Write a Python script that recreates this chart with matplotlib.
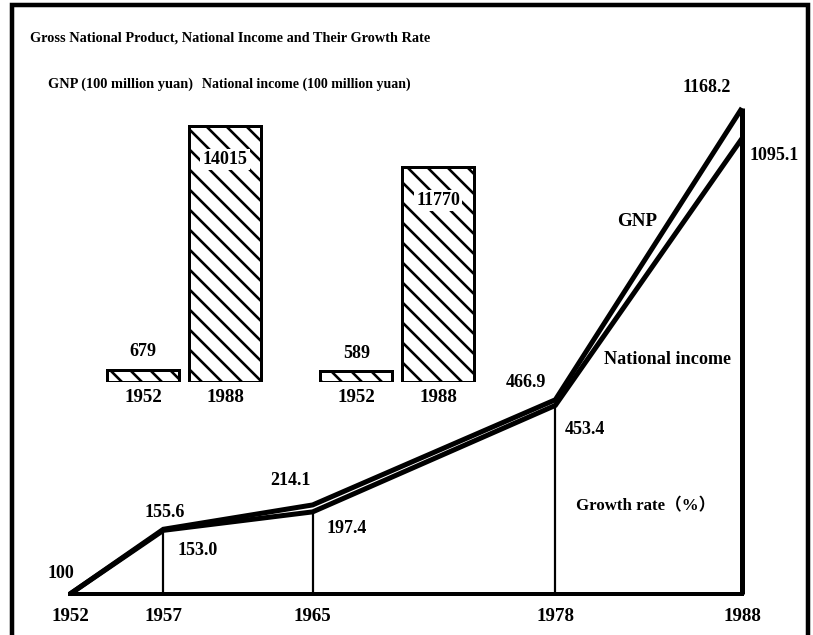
import numpy as np
import matplotlib
matplotlib.use('Agg')
import matplotlib.pyplot as plt
from matplotlib.patches import Rectangle

# ---------------- data ----------------
years = [1952, 1957, 1965, 1978, 1988]
gnp_rate = [100, 155.6, 214.1, 466.9, 1168.2]
ni_rate = [100, 153.0, 197.4, 453.4, 1095.1]
year_labels = ['1952', '1957', '1965', '1978', '1988']

bar_years = ['1952', '1988']
gnp_values = [679, 14015]
ni_values = [589, 11770]

title = 'Gross National Product, National Income and Their Growth Rate'
gnp_bar_title = 'GNP (100 million yuan)'
ni_bar_title = 'National income (100 million yuan)'
gnp_line_label = 'GNP'
ni_line_label = 'National income'
rate_label = 'Growth rate\uff08%\uff09'

# ---------------- layout helpers ----------------
W, H, DPI = 813, 635, 120
PT = 72.0 / DPI


def px(v):
    return v * PT


plt.rcParams['font.family'] = ['Liberation Serif', 'Noto Sans CJK SC', 'DejaVu Sans']
plt.rcParams['font.weight'] = 'bold'
plt.rcParams['hatch.linewidth'] = px(2.6)

fig = plt.figure(figsize=(W / DPI, H / DPI), dpi=DPI)
fig.patch.set_facecolor('white')


def fax(l, t, r, b):
    return fig.add_axes([l / W, 1 - b / H, (r - l) / W, (b - t) / H])


def ftext(x, y, s, size_px, ha='center', **kw):
    return fig.text(x / W, 1 - y / H, s, ha=ha, va='center',
                    fontsize=px(size_px), fontweight='bold', **kw)


def fit(t, width_px):
    r = fig.canvas.get_renderer()
    for _ in range(2):
        bb = t.get_window_extent(r)
        t.set_fontsize(t.get_fontsize() * width_px / bb.width)


# outer frame
fig.add_artist(Rectangle((12 / W, -0.05), (808 - 12) / W, 1.05 - 5 / H,
                         transform=fig.transFigure, fill=False,
                         edgecolor='black', linewidth=px(4.5)))

# titles (reference face is condensed; widen slightly to keep legible height)
t = ftext(30, 38, title, 18, ha='left')
fit(t, 400)
t = ftext(48, 84, gnp_bar_title, 18, ha='left')
fit(t, 145)
t = ftext(202, 84, ni_bar_title, 18, ha='left')
fit(t, 208)

# ---------------- growth-rate line chart ----------------
ax = fax(70, 80, 742, 594)


def fwd(v):
    v = np.asarray(v, dtype=float)
    return np.where(v < 150, (v - 100) * 3.0, v)


def inv(u):
    u = np.asarray(u, dtype=float)
    return np.where(u < 150, u / 3.0 + 100, u)


ax.set_yscale('function', functions=(fwd, inv))
ax.set_xlim(1952, 1988)
ax.set_ylim(100, 514 / 0.416)
ax.set_facecolor('none')
for s in ['top', 'left', 'right']:
    ax.spines[s].set_visible(False)
ax.spines['bottom'].set_linewidth(px(4))
ax.set_yticks([])
ax.minorticks_off()
ax.set_xticks(years)
ax.set_xticklabels(year_labels, fontsize=px(19), fontweight='bold')
ax.tick_params(axis='x', length=0, pad=px(14))

ax.vlines(years[1:-1], 100, ni_rate[1:-1], color='black', lw=px(2.2),
          clip_on=False)
ax.vlines(years[-1], 100, gnp_rate[-1], color='black', lw=px(5),
          clip_on=False)
ax.plot(years, gnp_rate, color='black', lw=px(5), solid_joinstyle='miter',
        solid_capstyle='butt', clip_on=False)
ax.plot(years, ni_rate, color='black', lw=px(5), solid_joinstyle='miter',
        solid_capstyle='butt', clip_on=False)

gnp_off = [(-9, 21), (1, 17), (-22, 24), (-29, 17), (-35, 21)]
ni_off = [None, (34, -20), (34, -17), (30, -24), (32, -17)]
for yr, v, o in zip(years, gnp_rate, gnp_off):
    s = '100' if v == 100 else f'{v:.1f}'
    ax.annotate(s, (yr, v), xytext=o, textcoords='offset pixels',
                ha='center', va='center', fontsize=px(18), fontweight='bold',
                annotation_clip=False)
for yr, v, o in zip(years, ni_rate, ni_off):
    if o is None:
        continue
    ax.annotate(f'{v:.1f}', (yr, v), xytext=o, textcoords='offset pixels',
                ha='center', va='center', fontsize=px(18), fontweight='bold',
                annotation_clip=False)

t = ftext(637, 222, gnp_line_label, 18)
fit(t, 40)
t = ftext(668, 360, ni_line_label, 18)
fit(t, 127)
t = ftext(646, 506, rate_label, 18)
fit(t, 138)

# ---------------- bar insets ----------------
bx = fax(100, 100, 485, 382)
bx.set_xlim((100 - 143) / 82, (485 - 143) / 82)
bx.set_ylim(0, 282 / 0.0183)
bx.axis('off')
bx.set_facecolor('none')

gnp_x = np.arange(len(gnp_values))
ni_x = np.arange(len(ni_values)) + 2.6
for xs, vals in [(gnp_x, gnp_values), (ni_x, ni_values)]:
    bx.bar(xs, vals, width=0.88, color='white', edgecolor='black',
           hatch='\\\\', linewidth=px(3))
    for x, v, lab in zip(xs, vals, bar_years):
        if v < 2000:
            bx.annotate(str(v), (x, v), xytext=(0, 18), textcoords='offset pixels',
                        ha='center', va='center', fontsize=px(18), fontweight='bold')
        else:
            bx.annotate(str(v), (x, v), xytext=(0, -34), textcoords='offset pixels',
                        ha='center', va='center', fontsize=px(18), fontweight='bold',
                        bbox=dict(boxstyle='square,pad=0.12', fc='white', ec='none'))
        bx.annotate(lab, (x, 0), xytext=(0, -15), textcoords='offset pixels',
                    ha='center', va='center', fontsize=px(19), fontweight='bold')

fig.savefig('out.png', dpi=DPI, facecolor='white')
